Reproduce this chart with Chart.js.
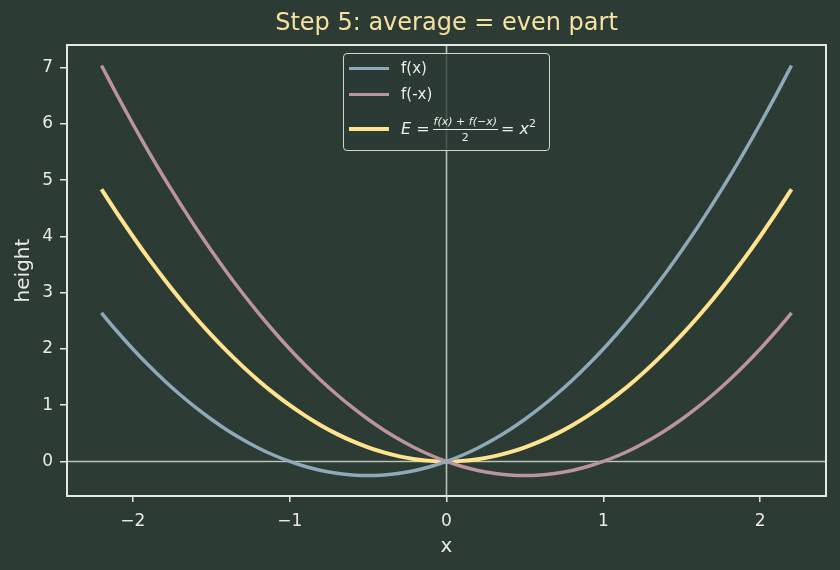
<!DOCTYPE html>
<html>
<head>
<meta charset="utf-8">
<script src="https://cdn.jsdelivr.net/npm/chart.js@4/dist/chart.umd.min.js"></script>
<style>
  html, body { margin: 0; padding: 0; background: #2c3b34; }
  #wrap { position: relative; width: 840px; height: 570px; }
  #title {
    position: absolute; left: 67px; width: 759px; top: 8px; text-align: center;
    font-family: "DejaVu Sans", sans-serif; font-size: 24px; color: #f6e2a0; white-space: nowrap;
  }
  #legend {
    position: absolute; left: 343px; top: 53px; width: 205px; height: 96px;
    border: 1px solid #cfd5cc; border-radius: 4px; background: rgba(44,59,52,0.8);
    font-family: "DejaVu Sans", sans-serif; font-size: 15px; color: #eeeee6;
  }
  .row { position: absolute; left: 0; height: 20px; display: flex; align-items: center; }
  .sw { width: 40px; margin-left: 5px; margin-right: 12px; }
  .frac { display: inline-flex; flex-direction: column; align-items: center; font-size: 11px; margin: 0 3px; vertical-align: middle; }
  .frac .num { border-bottom: 1px solid #eeeee6; padding: 0 1px 1px; font-style: italic; }
  .frac .den { padding-top: 1px; }
  .math { font-size: 16px; white-space: nowrap; }
  i { font-style: italic; }
  sup { font-size: 11px; vertical-align: 7px; line-height: 0; }
</style>
</head>
<body>
<div id="wrap">
  <canvas id="c" width="840" height="570"></canvas>
  <div id="title">Step 5: average = even part</div>
  <div id="legend">
    <div class="row" style="top:4px"><div class="sw" style="border-top:3px solid #8fa9b9"></div><span>f(x)</span></div>
    <div class="row" style="top:30px"><div class="sw" style="border-top:3px solid #ba959d"></div><span>f(-x)</span></div>
    <div class="row" style="top:65px"><div class="sw" style="border-top:4px solid #ffe38e"></div><span class="math"><i>E</i> =<span class="frac"><span class="num">f(x) + f(−x)</span><span class="den">2</span></span>= <i>x</i><sup>2</sup></span></div>
  </div>
</div>
<script>
// values
var xs = [-2.2, -2.1, -2.0, -1.9, -1.8, -1.7, -1.6, -1.5, -1.4, -1.3, -1.2, -1.1, -1.0, -0.9, -0.8, -0.7, -0.6, -0.5, -0.4, -0.3, -0.2, -0.1,
          0, 0.1, 0.2, 0.3, 0.4, 0.5, 0.6, 0.7, 0.8, 0.9, 1.0, 1.1, 1.2, 1.3, 1.4, 1.5, 1.6, 1.7, 1.8, 1.9, 2.0, 2.1, 2.2];
var fPos = [2.64, 2.31, 2.00, 1.71, 1.44, 1.19, 0.96, 0.75, 0.56, 0.39, 0.24, 0.11, 0, -0.09, -0.16, -0.21, -0.24, -0.25, -0.24, -0.21, -0.16, -0.09,
            0, 0.11, 0.24, 0.39, 0.56, 0.75, 0.96, 1.19, 1.44, 1.71, 2.00, 2.31, 2.64, 2.99, 3.36, 3.75, 4.16, 4.59, 5.04, 5.51, 6.00, 6.51, 7.04];
var fNeg = [7.04, 6.51, 6.00, 5.51, 5.04, 4.59, 4.16, 3.75, 3.36, 2.99, 2.64, 2.31, 2.00, 1.71, 1.44, 1.19, 0.96, 0.75, 0.56, 0.39, 0.24, 0.11,
            0, -0.09, -0.16, -0.21, -0.24, -0.25, -0.24, -0.21, -0.16, -0.09, 0, 0.11, 0.24, 0.39, 0.56, 0.75, 0.96, 1.19, 1.44, 1.71, 2.00, 2.31, 2.64];
var evenPart = [4.84, 4.41, 4.00, 3.61, 3.24, 2.89, 2.56, 2.25, 1.96, 1.69, 1.44, 1.21, 1.00, 0.81, 0.64, 0.49, 0.36, 0.25, 0.16, 0.09, 0.04, 0.01,
                0, 0.01, 0.04, 0.09, 0.16, 0.25, 0.36, 0.49, 0.64, 0.81, 1.00, 1.21, 1.44, 1.69, 1.96, 2.25, 2.56, 2.89, 3.24, 3.61, 4.00, 4.41, 4.84];
var xTicks = [-2, -1, 0, 1, 2];
var yTicks = [0, 1, 2, 3, 4, 5, 6, 7];

var spine = '#e6e7df';
var tickText = '#eaeae2';
var font = 'DejaVu Sans';

function pts(ys) {
    return xs.map(function(x, i) { return { x: x, y: ys[i] }; });
}

var frame = {
    id: 'frame',
    beforeDatasetsDraw: function(chart) {
        var a = chart.chartArea, ctx = chart.ctx;
        var x0 = chart.scales.x.getPixelForValue(0);
        var y0 = chart.scales.y.getPixelForValue(0);
        ctx.save();
        ctx.strokeStyle = '#b8c2b7';
        ctx.lineWidth = 1.6;
        ctx.beginPath();
        ctx.moveTo(x0, a.top); ctx.lineTo(x0, a.bottom);
        ctx.moveTo(a.left, y0); ctx.lineTo(a.right, y0);
        ctx.stroke();
        ctx.restore();
    },
    afterDraw: function(chart) {
        var a = chart.chartArea, ctx = chart.ctx;
        ctx.save();
        ctx.strokeStyle = spine;
        ctx.lineWidth = 2;
        ctx.strokeRect(a.left, a.top, a.right - a.left, a.bottom - a.top);
        ctx.restore();
    }
};

new Chart(document.getElementById('c'), {
    type: 'line',
    data: {
        datasets: [
            { label: 'f(x)', data: pts(fPos), borderColor: '#8fa9b9', borderWidth: 3.5, pointRadius: 0, tension: 0.2 },
            { label: 'f(-x)', data: pts(fNeg), borderColor: '#ba959d', borderWidth: 3.5, pointRadius: 0, tension: 0.2 },
            { label: 'E', data: pts(evenPart), borderColor: '#ffe38e', borderWidth: 4, pointRadius: 0, tension: 0.2 }
        ]
    },
    options: {
        responsive: false,
        animation: false,
        layout: { padding: { left: 0, right: 14, top: 45, bottom: 0 } },
        plugins: {
            legend: { display: false },
            tooltip: { enabled: false },
            title: { display: false }
        },
        scales: {
            x: {
                type: 'linear',
                min: -2.42, max: 2.42,
                afterBuildTicks: function(s) { s.ticks = xTicks.map(function(v) { return { value: v }; }); },
                afterFit: function(s) { s.height = 74; },
                ticks: {
                    color: tickText, padding: 9,
                    font: { family: font, size: 17 },
                    callback: function(v) { return String(v).replace('-', '\u2212'); }
                },
                grid: { drawOnChartArea: false, tickLength: 6, color: spine, lineWidth: 1.5 },
                border: { color: spine, width: 2 },
                title: { display: true, text: 'x', color: tickText, font: { family: font, size: 20 }, padding: { top: 0, bottom: 11 } }
            },
            y: {
                min: -0.6145, max: 7.4045,
                afterBuildTicks: function(s) { s.ticks = yTicks.map(function(v) { return { value: v }; }); },
                afterFit: function(s) { s.width = 67; },
                ticks: { color: tickText, padding: 7, font: { family: font, size: 17 } },
                grid: { drawOnChartArea: false, tickLength: 7, color: spine, lineWidth: 1.5 },
                border: { color: spine, width: 2 },
                title: { display: true, text: 'height', color: tickText, font: { family: font, size: 20 }, padding: { top: 12, bottom: 0 } }
            }
        }
    },
    plugins: [frame]
});
</script>
</body>
</html>
